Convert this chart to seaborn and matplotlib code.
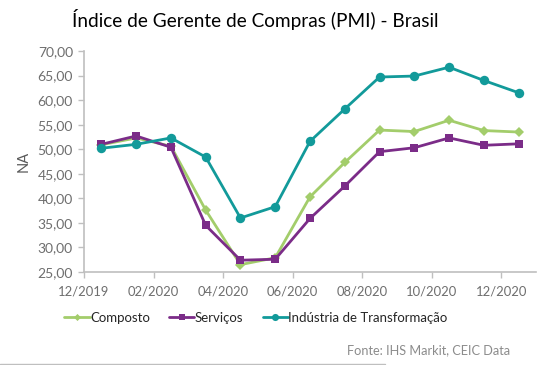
import matplotlib
matplotlib.use("Agg")
import matplotlib.pyplot as plt
import seaborn as sns
import pandas as pd
from matplotlib.lines import Line2D

months = ["12/2019", "01/2020", "02/2020", "03/2020", "04/2020", "05/2020", "06/2020",
          "07/2020", "08/2020", "09/2020", "10/2020", "11/2020", "12/2020"]
composto = [50.9, 52.3, 50.6, 37.6, 26.5, 27.9, 40.3, 47.3, 53.9, 53.6, 55.9, 53.8, 53.5]
servicos = [51.0, 52.7, 50.4, 34.5, 27.4, 27.6, 35.9, 42.5, 49.5, 50.3, 52.3, 50.8, 51.1]
industria = [50.2, 51.0, 52.3, 48.4, 36.0, 38.3, 51.6, 58.2, 64.7, 64.9, 66.7, 64.0, 61.5]
series_names = ["Composto", "Serviços", "Indústria de Transformação"]
tick_labels = ["12/2019", "02/2020", "04/2020", "06/2020", "08/2020", "10/2020", "12/2020"]
y_ticks = [25, 30, 35, 40, 45, 50, 55, 60, 65, 70]

colors = {"Composto": "#A3CD6B", "Serviços": "#7B2C88", "Indústria de Transformação": "#129A9A"}
markers = {"Composto": "D", "Serviços": "s", "Indústria de Transformação": "o"}
msizes = {"Composto": 4.8, "Serviços": 6.2, "Indústria de Transformação": 6.8}

rows = []
for name, vals in zip(series_names, [composto, servicos, industria]):
    for i, (m, v) in enumerate(zip(months, vals)):
        rows.append({"pos": i + 0.5, "mes": m, "serie": name, "valor": v})
df = pd.DataFrame(rows)

sns.set_theme(style="white")
plt.rcParams['font.family'] = ['Lato', 'DejaVu Sans']

fig = plt.figure(figsize=(5.6, 3.65), dpi=100)
ax = fig.add_axes([84/560, 1 - 272/365, (536-84)/560, (272-51)/365])

for name in series_names:
    sub = df[df["serie"] == name]
    sns.lineplot(data=sub, x="pos", y="valor", ax=ax, color=colors[name],
                 marker=markers[name], markersize=msizes[name], markeredgewidth=0,
                 linewidth=2.0, label=name, legend=False)

ax.set_xlim(0, 13)
ax.set_ylim(25, 70)
ax.set_xticks(range(0, 13, 2))
ax.set_xticklabels(tick_labels)
ax.set_yticks(y_ticks)
ax.set_yticklabels([f"{v:.2f}".replace(".", ",") for v in y_ticks])
ax.tick_params(axis="both", colors="#BFBFBF", labelcolor="#6E6E6E",
               length=4, width=1, direction="out", bottom=True, left=True)
ax.tick_params(axis="x", pad=6, labelsize=9.4)
ax.tick_params(axis="y", pad=4, labelsize=10)
for s in ["top", "right"]:
    ax.spines[s].set_visible(False)
for s in ["left", "bottom"]:
    ax.spines[s].set_color("#BFBFBF")
    ax.spines[s].set_linewidth(1.2)
ax.grid(False)
ax.set_xlabel("")
ax.set_ylabel("NA", color="#595959", fontsize=10.5, labelpad=5)

handles = [Line2D([0], [0], color=colors[n], marker=markers[n], markersize=msizes[n] * 0.75,
                  markeredgewidth=0, linewidth=2.0) for n in series_names]
fig.legend(handles, series_names, loc="center", bbox_to_anchor=(256/560, 1 - 318/365),
           ncol=3, frameon=False, fontsize=9.5, handlelength=1.9, handletextpad=0.05,
           columnspacing=1.45)

fig.text(255/560, 1 - 19/365, "Índice de Gerente de Compras (PMI) - Brasil",
         ha="center", va="center", fontsize=13.7, color="#000000")
fig.text(510/560, 1 - 350/365, "Fonte: IHS Markit, CEIC Data", ha="right", va="center",
         fontsize=9.2, color="#8C8C8C")
fig.add_artist(Line2D([0, 385/560], [1 - 364/365, 1 - 364/365], color="#BFBFBF",
                      linewidth=1, transform=fig.transFigure))

fig.savefig("out.png", dpi=100)
